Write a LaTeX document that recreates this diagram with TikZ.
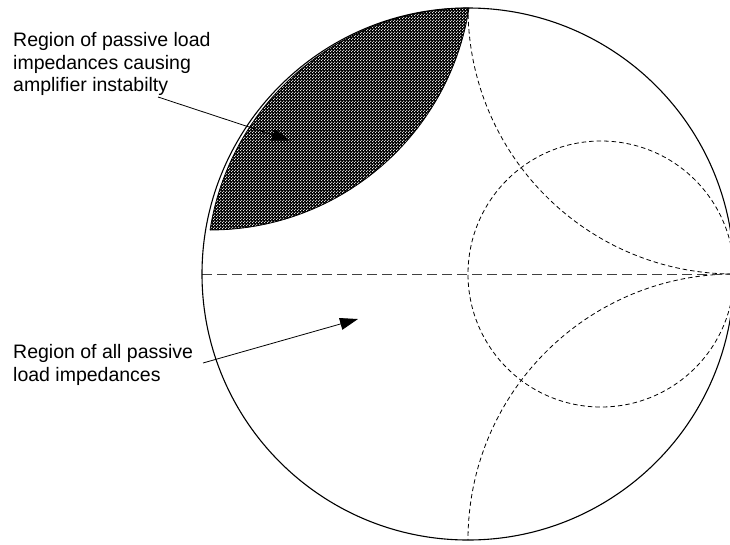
\documentclass[tikz,border=0pt]{standalone}
\usepackage{fontspec}
\setmainfont{Liberation Sans}
\usetikzlibrary{arrows.meta,patterns.meta}
\tikzdeclarepattern{
  name=wdots,
  type=uncolored,
  bounding box={(0pt,0pt) and (3pt,3pt)},
  tile size={(3pt,3pt)},
  code={
    \fill (0.75pt,0.75pt) circle (0.82pt);
    \fill (2.25pt,2.25pt) circle (0.82pt);
  }
}
\tikzset{
  chart/.style={line width=1.1pt, black},
  smithdash/.style={line width=0.8pt, dash pattern=on 4.5pt off 3pt, black},
  axisdash/.style={line width=0.9pt, dash pattern=on 10pt off 5pt, black!75},
  pointer/.style={line width=0.8pt, -{Triangle[length=18pt,width=12pt]}},
  label/.style={anchor=base west, align=left, inner sep=0pt, font=\fontsize{19.5}{22.3}\selectfont},
}
\begin{document}
\begin{tikzpicture}[x=1pt,y=-1pt]
\clip (0,0) rectangle (730,544);
\fill[white] (0,0) rectangle (730,544);
% hatched lens
\begin{scope}
  \clip (469.7,270.8) circle [radius=262.8];
  \fill[black] (210,-32) circle [radius=262];
  \fill[pattern=wdots, pattern color=white] (210,-32) circle [radius=262];
  \draw[line width=0.8pt] (210,-32) circle [radius=262];
\end{scope}
\begin{scope}
  \clip (210,-32) circle [radius=262];
  \draw[line width=0.8pt] (469.7,270.8) circle [radius=262.8];
\end{scope}
% smith chart arcs
\begin{scope}
  \clip (468,274) circle [radius=266];
  \draw[smithdash] (734,8) circle [radius=266];
  \draw[smithdash] (734,540) circle [radius=266];
  \draw[smithdash] (601,274) circle [radius=133];
\end{scope}
\draw[axisdash] (202,274) -- (734,274);
\draw[chart] (468,274) circle [radius=266];
% labels (base anchor = baseline of last line)
\node[label] (t1) at (13,91.3) {Region of passive load\\impedances causing\\amplifier instabilty};
\node[label] (t2) at (13,381) {Region of all passive\\load impedances};
\coordinate (a1s) at (158,97);
\coordinate (a1e) at (290,140.5);
\coordinate (a2s) at (203,363);
\coordinate (a2e) at (358,319);
\draw[pointer] (a1s) -- (a1e);
\draw[pointer] (a2s) -- (a2e);
\end{tikzpicture}
\end{document}
